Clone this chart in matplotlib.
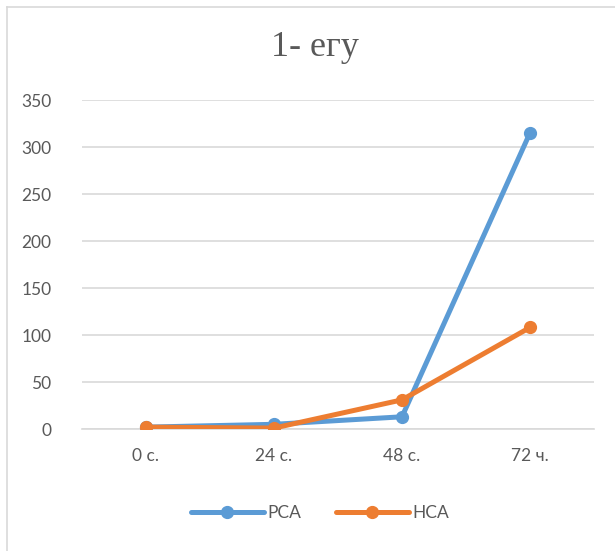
import matplotlib.pyplot as plt
from matplotlib.lines import Line2D

categories = ["0 с.", "24 с.", "48 с.", "72 ч."]
pca = [2, 5, 13, 315]
hca = [2, 1, 31, 108]
title = "1- егу"

text_color = "#595959"
blue = "#5B9BD5"
orange = "#ED7D31"

plt.rcParams["font.family"] = ["Lato", "DejaVu Sans"]

fig = plt.figure(figsize=(6.15, 5.51), dpi=100)
ax = fig.add_axes([0.1333, 0.2214, 0.8325, 0.5971])

x = list(range(len(categories)))
ax.plot(x, pca, color=blue, lw=3.6, marker="o", ms=8.5, label="PCA",
        solid_joinstyle="round", solid_capstyle="round", zorder=3)
ax.plot(x, hca, color=orange, lw=3.6, marker="o", ms=8.5, label="HCA",
        solid_joinstyle="round", solid_capstyle="round", zorder=4)

ax.set_xlim(-0.5, len(categories) - 0.5)
ax.set_ylim(0, 350)
ax.set_yticks(range(0, 351, 50))
ax.set_xticks(x)
ax.set_xticklabels(categories)
ax.grid(axis="y", color="#D9D9D9", lw=1.2)
ax.set_axisbelow(True)
for s in ["top", "right", "left"]:
    ax.spines[s].set_visible(False)
ax.spines["bottom"].set_color("#D9D9D9")
ax.spines["bottom"].set_linewidth(1.2)
ax.tick_params(axis="both", length=0, labelsize=12.5, colors=text_color)
ax.tick_params(axis="y", pad=22)
ax.tick_params(axis="x", pad=14)

fig.text(0.512, 0.913, title, ha="center", va="center", fontsize=26,
         family="Liberation Serif", color=text_color)

leg = fig.legend(loc="center", bbox_to_anchor=(0.52, 0.069), ncol=2, frameon=False,
                 fontsize=12.5, handlelength=4.2, columnspacing=2.0, handletextpad=0.2)
for t in leg.get_texts():
    t.set_color(text_color)

# chart area border (left and top edges visible)
fig.add_artist(Line2D([0.012, 0.012], [0, 0.988], color="#D9D9D9", lw=1.2,
                      transform=fig.transFigure))
fig.add_artist(Line2D([0.012, 1], [0.988, 0.988], color="#D9D9D9", lw=1.2,
                      transform=fig.transFigure))

fig.savefig("out.png", dpi=100)
